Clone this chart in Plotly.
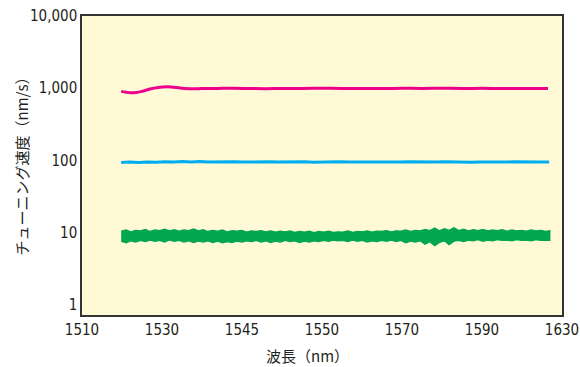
import numpy as np
import plotly.graph_objects as go

# ---- data ----
tick_labels = ["1510", "1530", "1545", "1550", "1570", "1590", "1630"]
tick_pos = [1510, 1530, 1550, 1570, 1590, 1610, 1630]  # nominal evenly spaced positions

y_tickvals = [1, 10, 100, 1000, 10000]
y_ticktext = ["1", "10", "100", "1,000", "10,000"]

# magenta (1000 nm/s)
mag_x = [1519.8, 1521.0, 1522.0, 1523.5, 1525.0, 1527.0, 1529.0, 1531.3, 1533.0, 1534.5, 1537.0,
         1540.0, 1544.0, 1548.0, 1552.0, 1556.0, 1560.0, 1565.0, 1570.0, 1575.0, 1580.0, 1585.0,
         1590.0, 1595.0, 1600.0, 1605.0, 1610.0, 1615.0, 1620.0, 1626.5]
mag_y = [905, 880, 865, 872, 905, 975, 1025, 1045, 1035, 1005, 985,
         990, 995, 998, 990, 985, 992, 995, 1000, 995, 993, 990,
         997, 995, 998, 993, 996, 992, 995, 990]

# blue (100 nm/s)
blue_y = [93.5, 95.0, 94.0, 95.5, 94.2, 96.0, 95.0, 96.5, 95.2, 96.8, 95.5, 96.2, 95.0, 96.0, 94.8,
          95.8, 95.0, 96.3, 95.2, 95.9, 94.9, 95.6, 94.6, 95.8, 95.0, 96.1, 95.1, 95.7, 94.8, 95.5,
          95.0, 96.2, 95.1, 95.6, 94.7, 95.4, 94.9, 95.8, 95.0, 95.5, 94.6, 95.3, 94.8, 95.6, 95.0,
          95.9, 95.2, 95.6, 94.8, 95.4]

# green (10 nm/s) noisy band: upper / lower envelopes
green_up = [10.5, 10.9, 10.3, 10.8, 10.6, 11.1, 10.4, 10.9, 10.7, 11.2, 10.6, 11.0, 10.5, 10.9,
            10.7, 11.3, 10.6, 11.0, 10.4, 10.8, 10.5, 10.9, 10.3, 10.7, 10.5, 10.8, 10.2, 10.6,
            10.4, 10.7, 10.3, 10.6, 10.2, 10.5, 10.3, 10.6, 10.1, 10.4, 10.2, 10.5, 10.0, 10.4,
            10.2, 10.5, 10.1, 10.3, 10.2, 10.6, 10.1, 10.4, 10.3, 10.6, 10.2, 10.5, 10.4, 10.7,
            10.3, 10.6, 10.5, 10.9, 10.4, 10.8, 10.6, 11.1, 10.7, 11.6, 10.6, 11.4, 10.8, 11.7,
            10.7, 11.2, 10.6, 11.0, 10.7, 11.1, 10.6, 10.9, 10.7, 11.0, 10.5, 10.9, 10.6, 10.8,
            10.5, 10.9, 10.6, 10.8, 10.4, 10.7]
green_lo = [7.6, 7.2, 7.7, 7.4, 7.8, 7.5, 7.9, 7.6, 7.8, 7.4, 7.9, 7.6, 7.8, 7.4, 7.7, 7.3,
            7.6, 7.4, 7.7, 7.3, 7.6, 7.2, 7.5, 7.3, 7.6, 7.4, 7.7, 7.5, 7.8, 7.4, 7.7, 7.3,
            7.6, 7.4, 7.8, 7.5, 7.7, 7.3, 7.6, 7.4, 7.7, 7.5, 7.8, 7.6, 7.9, 7.7, 7.8, 7.5,
            7.9, 7.6, 7.8, 7.4, 7.7, 7.5, 7.8, 7.6, 7.9, 7.5, 7.8, 7.2, 7.6, 7.4, 7.7, 6.9,
            7.5, 6.6, 7.3, 7.7, 6.8, 7.6, 7.8, 7.5, 7.9, 7.7, 8.0, 7.6, 7.9, 7.7, 8.0, 7.8,
            7.9, 7.7, 8.0, 7.8, 7.9, 7.7, 8.0, 7.8, 7.9, 7.8]

x_start, x_end = 1519.8, 1626.8
blue_x = np.linspace(x_start, x_end, len(blue_y))
green_x = np.linspace(x_start, x_end + 0.3, len(green_up))

fig = go.Figure()

fig.add_trace(go.Scatter(x=green_x, y=green_lo, mode="lines",
                         line=dict(color="#00A650", width=1.2), showlegend=False, hoverinfo="skip"))
fig.add_trace(go.Scatter(x=green_x, y=green_up, mode="lines", fill="tonexty",
                         fillcolor="#00A650",
                         line=dict(color="#00A650", width=1.2), showlegend=False, hoverinfo="skip"))
fig.add_trace(go.Scatter(x=blue_x, y=blue_y, mode="lines",
                         line=dict(color="#00AEEF", width=3), showlegend=False))
fig.add_trace(go.Scatter(x=mag_x, y=mag_y, mode="lines", line_shape="spline",
                         line=dict(color="#EC008C", width=3), showlegend=False))

tick_font = dict(family="DejaVu Sans Condensed, Roboto", size=15, color="#231F20")

fig.update_layout(
    width=580, height=367,
    margin=dict(l=82, r=18, t=16, b=52, autoexpand=False),
    paper_bgcolor="white",
    plot_bgcolor="#FFF9D5",
    xaxis=dict(range=[1510, 1630], tickvals=tick_pos, ticktext=tick_labels,
               showgrid=False, zeroline=False, ticks="", tickfont=tick_font,
               ticklabeloverflow="allow", automargin=False,
               showline=True, linecolor="#333333", linewidth=1.5, mirror=True),
    yaxis=dict(type="log", range=[-0.14, 4.0], tickvals=y_tickvals, ticktext=y_ticktext,
               showgrid=False, zeroline=False, ticks="", tickfont=tick_font, automargin=False,
               showline=True, linecolor="#333333", linewidth=1.5, mirror=True),
    annotations=[
        dict(text="波長（nm）", x=0.47, y=-0.135, xref="paper", yref="paper",
             xanchor="center", yanchor="middle", showarrow=False,
             font=dict(family="Noto Sans CJK JP", size=15, color="#231F20")),
        dict(text="チューニング速度（nm/s）", x=-0.125, y=0.51, xref="paper", yref="paper",
             xanchor="center", yanchor="middle", showarrow=False, textangle=-90,
             font=dict(family="Noto Sans CJK JP", size=15, color="#231F20")),
    ],
)

fig.write_html("out.html")
